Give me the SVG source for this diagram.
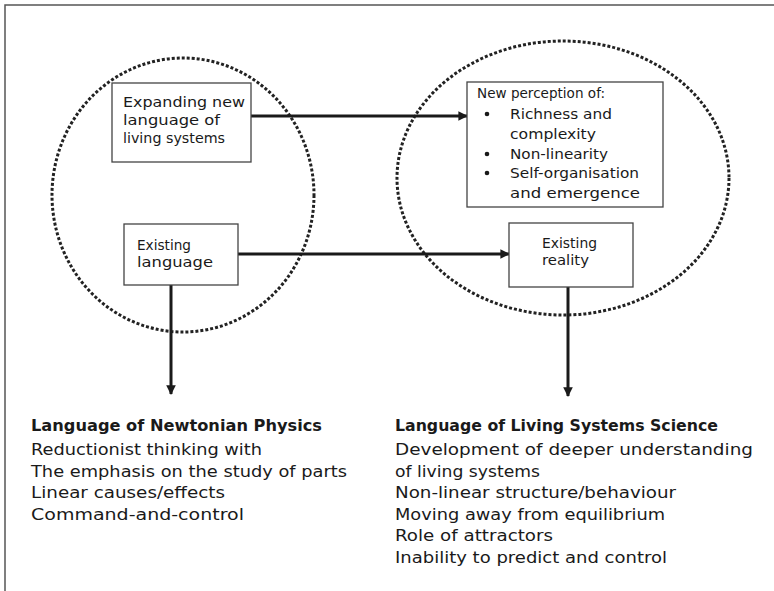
<svg xmlns="http://www.w3.org/2000/svg" width="774" height="591" viewBox="0 0 774 591">
<style>
  .frame{fill:none;stroke:#555;stroke-width:1.5}
  .cloud{fill:none;stroke:#222;stroke-width:3;stroke-dasharray:3 2}
  .box{fill:#fff;stroke:#444;stroke-width:1.3}
  .t{font-family:"DejaVu Sans","Liberation Sans",sans-serif;font-size:14px;fill:#1a1a1a}
  .b{font-family:"DejaVu Sans","Liberation Sans",sans-serif;font-size:15.5px;fill:#1a1a1a}
  .bh{font-family:"DejaVu Sans","Liberation Sans",sans-serif;font-size:15.5px;font-weight:bold;fill:#1a1a1a}
  .ln{stroke:#1a1a1a;stroke-width:3;fill:none}
</style>
<defs>
  <marker id="ah" viewBox="0 0 10 10" refX="9" refY="5" markerWidth="4" markerHeight="3.2" orient="auto" markerUnits="strokeWidth">
    <path d="M0,0 L10,5 L0,10 z" fill="#1a1a1a"/>
  </marker>
</defs>
<rect width="774" height="591" fill="#fff"/>
<path class="frame" d="M5,591 V5 H774"/>
<g id="ellipses">
  <ellipse id="left-cloud" class="cloud" cx="183" cy="195" rx="131" ry="137"/>
  <ellipse id="right-cloud" class="cloud" cx="563" cy="178" rx="166" ry="137"/>
</g>
<g id="connectors">
  <line class="ln" x1="251" y1="116" x2="467" y2="116" marker-end="url(#ah)"/>
  <line class="ln" x1="238" y1="254" x2="509" y2="254" marker-end="url(#ah)"/>
  <line class="ln" x1="171" y1="285" x2="171" y2="394" marker-end="url(#ah)"/>
  <line class="ln" x1="568" y1="287" x2="568" y2="396" marker-end="url(#ah)"/>
</g>
<g id="node-expanding">
  <rect class="box" x="112" y="83" width="139" height="79"/>
  <text class="t" x="123" y="107" textLength="122" lengthAdjust="spacingAndGlyphs">Expanding new</text>
  <text class="t" x="123" y="125" textLength="97" lengthAdjust="spacingAndGlyphs">language of</text>
  <text class="t" x="123" y="143" textLength="102" lengthAdjust="spacingAndGlyphs">living systems</text>
</g>
<g id="node-existing-language">
  <rect class="box" x="124" y="224" width="114" height="61"/>
  <text class="t" x="137" y="250" textLength="54" lengthAdjust="spacingAndGlyphs">Existing</text>
  <text class="t" x="137" y="267" textLength="76" lengthAdjust="spacingAndGlyphs">language</text>
</g>
<g id="node-new-perception">
  <rect class="box" x="467" y="82" width="196" height="125"/>
  <text class="t" x="477" y="98" textLength="128" lengthAdjust="spacingAndGlyphs">New perception of:</text>
  <circle cx="487" cy="114" r="2.3" fill="#1a1a1a"/>
  <text class="t" x="510" y="119" textLength="102" lengthAdjust="spacingAndGlyphs">Richness and</text>
  <text class="t" x="510" y="139" textLength="86" lengthAdjust="spacingAndGlyphs">complexity</text>
  <circle cx="487" cy="154" r="2.3" fill="#1a1a1a"/>
  <text class="t" x="510" y="159" textLength="98" lengthAdjust="spacingAndGlyphs">Non-linearity</text>
  <circle cx="487" cy="173" r="2.3" fill="#1a1a1a"/>
  <text class="t" x="510" y="178" textLength="129" lengthAdjust="spacingAndGlyphs">Self-organisation</text>
  <text class="t" x="510" y="198" textLength="130" lengthAdjust="spacingAndGlyphs">and emergence</text>
</g>
<g id="node-existing-reality">
  <rect class="box" x="509" y="223" width="124" height="64"/>
  <text class="t" x="542" y="248" textLength="55" lengthAdjust="spacingAndGlyphs">Existing</text>
  <text class="t" x="542" y="265" textLength="47" lengthAdjust="spacingAndGlyphs">reality</text>
</g>
<g id="node-newtonian">
  <text class="bh" x="31" y="431" textLength="291" lengthAdjust="spacingAndGlyphs">Language of Newtonian Physics</text>
  <text class="b" x="31" y="455" textLength="231" lengthAdjust="spacingAndGlyphs">Reductionist thinking with</text>
  <text class="b" x="31" y="477" textLength="316" lengthAdjust="spacingAndGlyphs">The emphasis on the study of parts</text>
  <text class="b" x="31" y="498" textLength="194" lengthAdjust="spacingAndGlyphs">Linear causes/effects</text>
  <text class="b" x="31" y="520" textLength="213" lengthAdjust="spacingAndGlyphs">Command-and-control</text>
</g>
<g id="node-living-systems">
  <text class="bh" x="395" y="431" textLength="323" lengthAdjust="spacingAndGlyphs">Language of Living Systems Science</text>
  <text class="b" x="395" y="455" textLength="358" lengthAdjust="spacingAndGlyphs">Development of deeper understanding</text>
  <text class="b" x="395" y="477" textLength="145" lengthAdjust="spacingAndGlyphs">of living systems</text>
  <text class="b" x="395" y="498" textLength="281" lengthAdjust="spacingAndGlyphs">Non-linear structure/behaviour</text>
  <text class="b" x="395" y="520" textLength="270" lengthAdjust="spacingAndGlyphs">Moving away from equilibrium</text>
  <text class="b" x="395" y="541" textLength="158" lengthAdjust="spacingAndGlyphs">Role of attractors</text>
  <text class="b" x="395" y="563" textLength="272" lengthAdjust="spacingAndGlyphs">Inability to predict and control</text>
</g>
</svg>
